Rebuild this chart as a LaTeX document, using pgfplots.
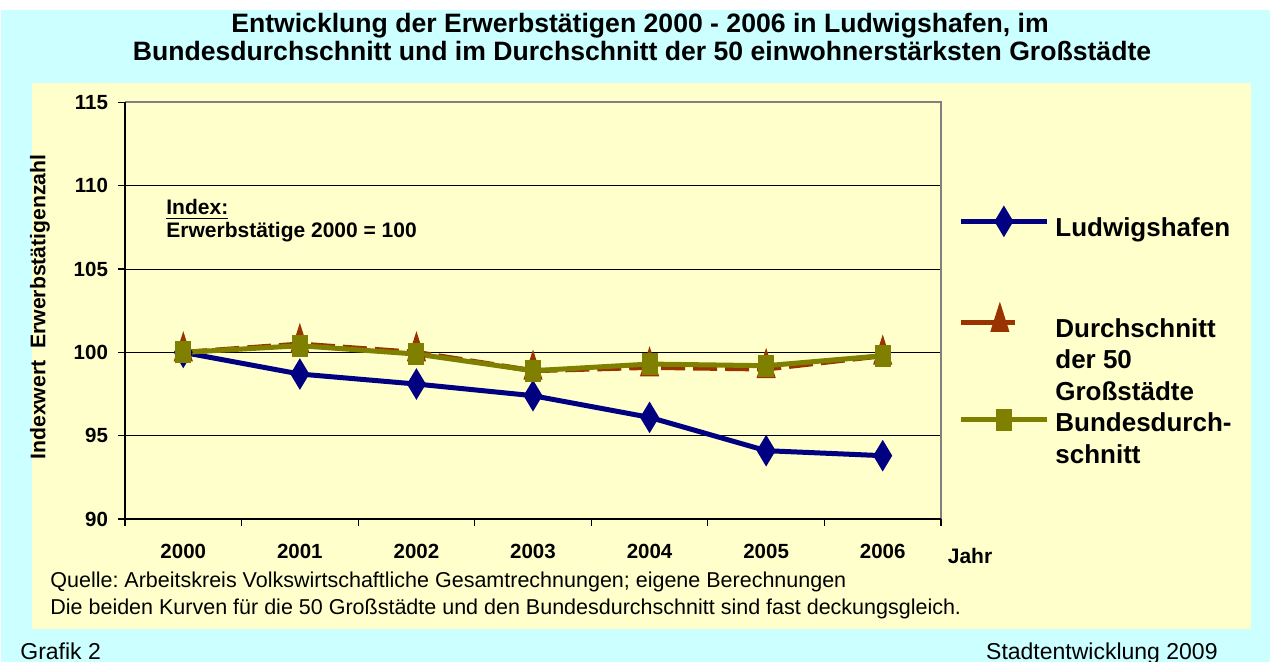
\documentclass[border=0pt]{standalone}
\usepackage{pgfplots}
\pgfplotsset{compat=1.18}
\usepackage{fontspec}
\setmainfont{Liberation Sans}
\frenchspacing
\usetikzlibrary{plotmarks}
\definecolor{bgcyan}{HTML}{CCFFFF}
\definecolor{bgyellow}{HTML}{FFFFCC}
\definecolor{lwnavy}{HTML}{000080}
\definecolor{grbrown}{HTML}{993300}
\definecolor{bdolive}{HTML}{808000}
\definecolor{bordergray}{HTML}{808080}

\pgfplotsset{
  longlegend/.style={legend image code/.code={\draw[##1, yshift=#1, mark repeat=2, mark phase=2] plot coordinates {(0pt,0pt) (21.5pt,0pt) (43pt,0pt)};}},
  shortlegend/.style={legend image code/.code={\draw[##1, yshift=#1, solid, mark repeat=2, mark phase=2] plot coordinates {(0pt,0pt) (19.5pt,0pt) (27pt,0pt)};}},
  lustyle/.style={lwnavy, line width=2.5pt, mark=diamond*, mark size=5.5pt, mark options={solid, xscale=0.8, fill=lwnavy}},
  grstyle/.style={grbrown, line width=2.5pt, dash pattern=on 12pt off 4pt, mark=triangle*, mark size=6.5pt, mark options={solid, xscale=0.55, fill=grbrown}},
  bdstyle/.style={bdolive, line width=2.5pt, mark=square*, mark size=4.25pt, mark options={solid, xscale=0.65, fill=bdolive}},
}

\pgfplotstableread{
x lu gr bd
0 100.0 100.0 100.0
1 98.7 100.5 100.4
2 98.1 100.0 99.9
3 97.4 98.9 98.9
4 96.1 99.1 99.3
5 94.1 99.0 99.2
6 93.8 99.8 99.8
}\datatable

\begin{document}
\begin{tikzpicture}[x=1pt,y=1pt]
\path[use as bounding box] (0,0) rectangle (635,331);
\fill[white] (0,0) rectangle (635,331);
\fill[bgcyan] (0.5,0) rectangle (635,326);
\fill[bgyellow] (16,16.5) rectangle (625.5,289.5);

\node[anchor=base, font=\bfseries\fontsize{13.3}{14}\selectfont] at (320,314.9) {Entwicklung der Erwerbstätigen 2000 - 2006 in Ludwigshafen, im};
\node[anchor=base, font=\bfseries\fontsize{13.3}{14}\selectfont] at (321,300.9) {Bundesdurchschnitt und im Durchschnitt der 50 einwohnerstärksten Großstädte};

\begin{axis}[
  at={(62.5pt,71.5pt)}, anchor=south west,
  scale only axis, width=408pt, height=208.25pt,
  xmin=-0.5, xmax=6.5, ymin=90, ymax=115,
  ytick={90,95,...,115},
  ymajorgrids, grid style={black, line width=0.5pt},
  xtick={-0.5,0.5,...,6.5}, xticklabels={},
  extra x ticks={0,1,...,6},
  extra x tick labels={2000,2001,2002,2003,2004,2005,2006},
  extra x tick style={major tick length=0pt, xticklabel style={anchor=base, yshift=-20pt}},
  tick align=outside, major tick length=3.5pt, tick pos=left,
  tick style={black, line width=0.6pt},
  axis line style={draw=none},
  ticklabel style={font=\bfseries\fontsize{10.25}{12}\selectfont},
  yticklabel style={xshift=-1.5pt},
  /pgf/number format/assume math mode=true,
  axis background/.style={fill=bgyellow},
  clip=false,
  legend cell align=left,
  legend style={at={(axis description cs:1.0208,0.742)}, anchor=north west, draw=none, fill=none,
    inner sep=0pt, row sep=1.25pt, column sep=2pt,
    font=\bfseries\fontsize{13}{15.75}\selectfont,
    nodes={inner sep=1pt, anchor=base west, text height=9.5pt, text depth=3pt}},
]
\addplot[lustyle, forget plot] table[x=x, y=lu] {\datatable};
\addplot[grstyle, forget plot] table[x=x, y=gr] {\datatable};
\addplot[bdstyle, forget plot] table[x=x, y=bd] {\datatable};
\addlegendimage{lustyle, longlegend=7.5pt}
\addlegendentry{Ludwigshafen}
\addlegendimage{empty legend}
\addlegendentry{}
\addlegendimage{empty legend}
\addlegendentry{}
\addlegendimage{grstyle, shortlegend=7.25pt}
\addlegendentry{Durchschnitt}
\addlegendimage{empty legend}
\addlegendentry{der 50}
\addlegendimage{empty legend}
\addlegendentry{Großstädte}
\addlegendimage{bdstyle, longlegend=6pt}
\addlegendentry{Bundesdurch-}
\addlegendimage{empty legend}
\addlegendentry{schnitt}
\draw[bordergray, line width=1pt] (rel axis cs:0,1) -- (rel axis cs:1,1) -- (rel axis cs:1,0);
\draw[black, line width=0.8pt] (rel axis cs:0,1) -- (rel axis cs:0,0) -- (rel axis cs:1,0);
\end{axis}

\node[rotate=90, font=\bfseries\fontsize{10.6}{12}\selectfont] at (20,177.5) {Indexwert\ \ Erwerbstätigenzahl};
\node[anchor=base west, font=\bfseries\fontsize{10.5}{12}\selectfont, inner sep=0pt] at (83,223.5) {\underline{Index:}};
\node[anchor=base west, font=\bfseries\fontsize{10.5}{12}\selectfont, inner sep=0pt] at (83,212) {Erwerbstätige 2000 = 100};
\node[anchor=base, font=\bfseries\fontsize{10.5}{12}\selectfont, inner sep=0pt] at (485,49.25) {Jahr};
\node[anchor=base west, font=\fontsize{10.75}{12}\selectfont, inner sep=0pt] at (25,37) {Quelle: Arbeitskreis Volkswirtschaftliche Gesamtrechnungen; eigene Berechnungen};
\node[anchor=base west, font=\fontsize{10.75}{12}\selectfont, inner sep=0pt] at (25,23.5) {Die beiden Kurven für die 50 Großstädte und den Bundesdurchschnitt sind fast deckungsgleich.};
\node[anchor=base west, font=\fontsize{11.5}{12}\selectfont, inner sep=0pt] at (10,1) {Grafik 2};
\node[anchor=base east, font=\fontsize{11.5}{12}\selectfont, inner sep=0pt] at (609,1) {Stadtentwicklung 2009};
\end{tikzpicture}
\end{document}
